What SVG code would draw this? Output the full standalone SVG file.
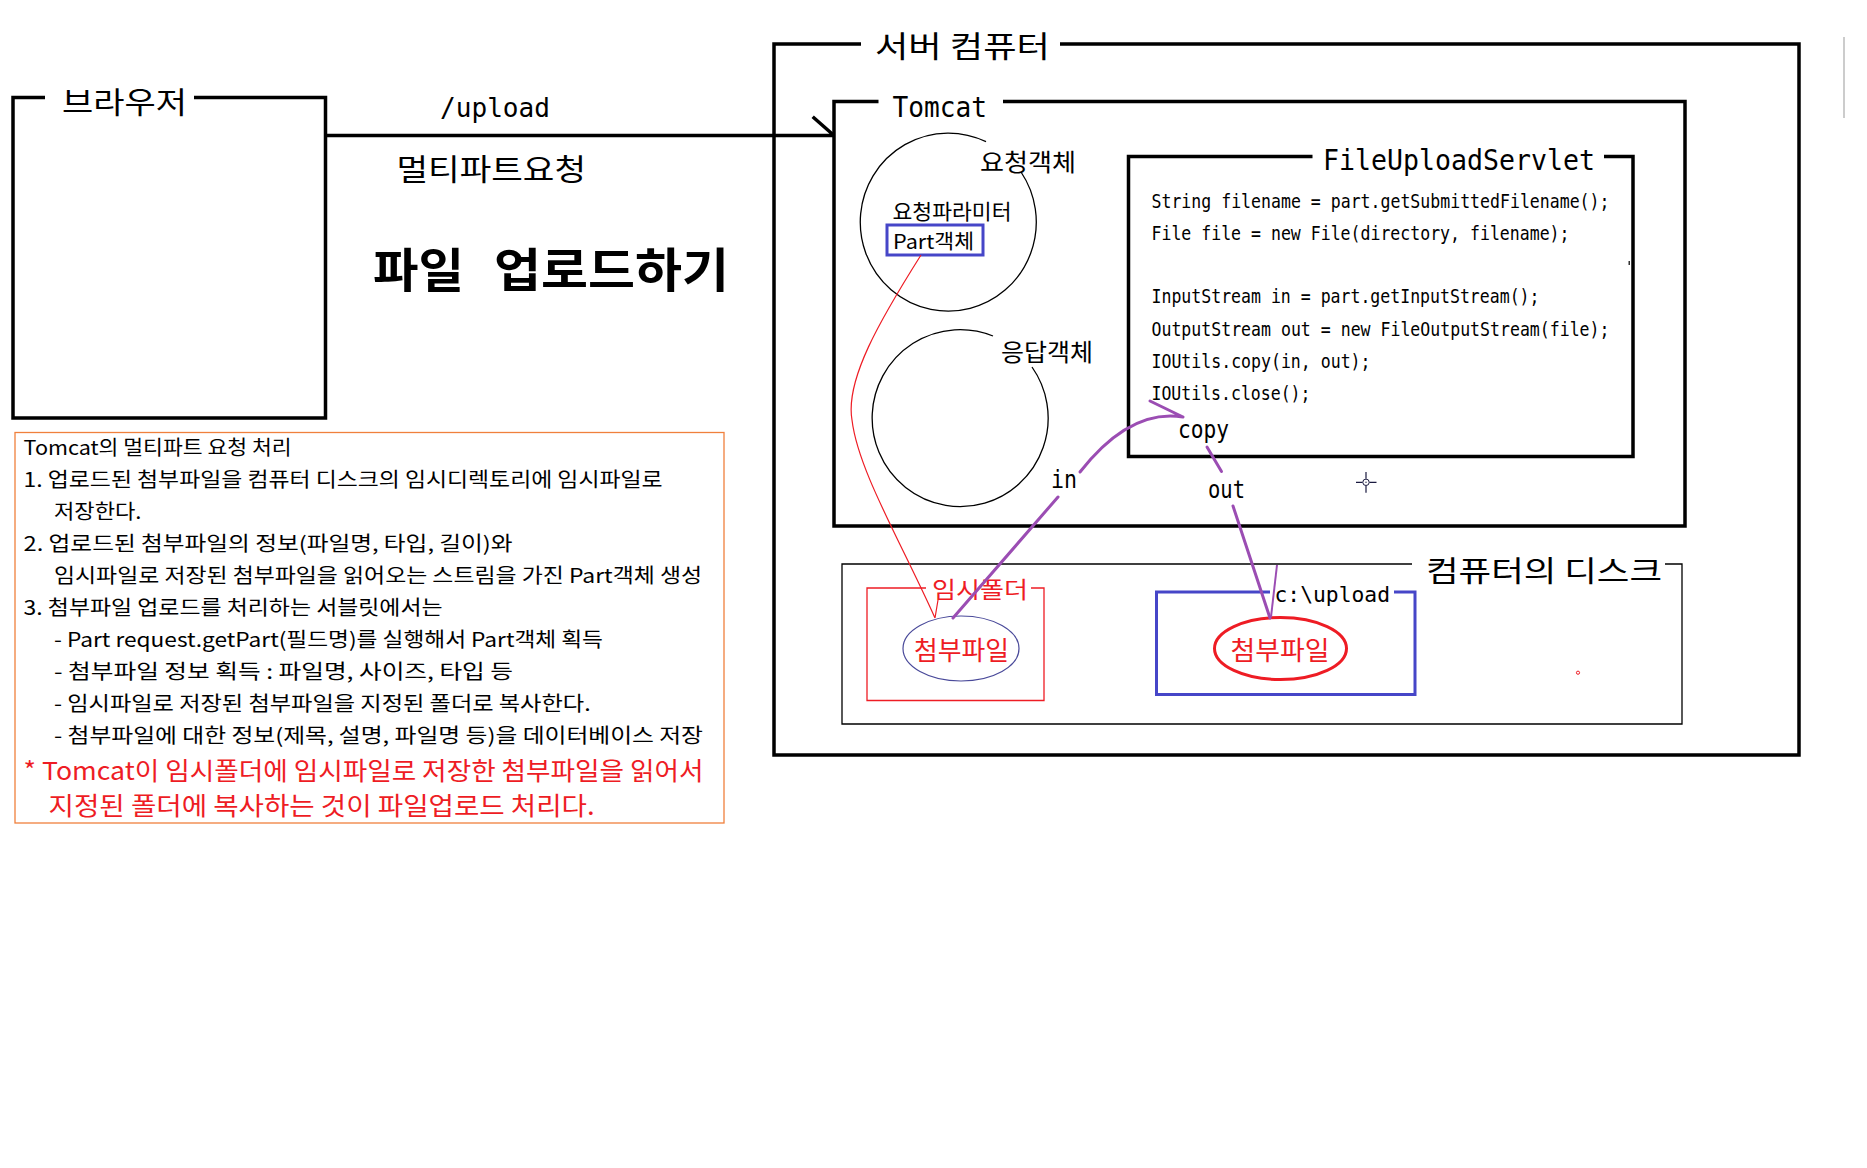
<svg xmlns="http://www.w3.org/2000/svg" width="1867" height="1168" viewBox="0 0 1867 1168">
<style>
.box{fill:none;stroke:#000;stroke-width:3.5}
.thin{fill:none;stroke:#000;stroke-width:1.3}
.kr{font-family:'Noto Sans CJK KR','Noto Sans',sans-serif;fill:#000}
.mono{font-family:'DejaVu Sans Mono','Liberation Mono',monospace;fill:#000}
.red{fill:#ee1c24}
.pur{fill:none;stroke:#9b4db3;stroke-width:3;stroke-linecap:round}
.blue{fill:none;stroke:#4646c8;stroke-width:3}
</style>
<rect width="1867" height="1168" fill="#fff"/>

<g id="browser">
<path class="box" d="M45,97.5 H13 V418 H325.5 V97.5 H194"/>
<text class="kr" x="62" y="113" font-size="30" textLength="125" lengthAdjust="spacingAndGlyphs">브라우저</text>
</g>

<g id="labels">
<text class="mono" x="440" y="117" font-size="26" textLength="110" lengthAdjust="spacingAndGlyphs">/upload</text>
<text class="kr" x="396.5" y="180" font-size="30" textLength="189.5" lengthAdjust="spacingAndGlyphs">멀티파트요청</text>
<text class="kr" x="373" y="287" font-size="47" font-weight="bold" textLength="91" lengthAdjust="spacingAndGlyphs">파일</text>
<text class="kr" x="494" y="287" font-size="47" font-weight="bold" textLength="235" lengthAdjust="spacingAndGlyphs">업로드하기</text>
</g>

<g id="server">
<path class="box" d="M861,44 H774 V755 H1799 V44 H1060"/>
<text class="kr" x="875" y="57" font-size="30" textLength="175" lengthAdjust="spacingAndGlyphs">서버 컴퓨터</text>
</g>

<g id="tomcat">
<path class="box" d="M878.5,101.5 H834 V526 H1685 V101.5 H1003"/>
<text class="mono" x="892.5" y="116.5" font-size="29" textLength="94.5" lengthAdjust="spacingAndGlyphs">Tomcat</text>
</g>

<g id="request-object">
<path class="thin" stroke-width="1.2" d="M1021,172 A88,89 0 1 1 986,141.7"/>
<text class="kr" x="980" y="170.5" font-size="24" textLength="96" lengthAdjust="spacingAndGlyphs">요청객체</text>
<text class="kr" x="892.5" y="218.5" font-size="21" textLength="119" lengthAdjust="spacingAndGlyphs">요청파라미터</text>
</g>

<g id="part-object">
<rect class="blue" x="887" y="225" width="96" height="30"/>
<text class="kr" x="893" y="248.5" font-size="20" textLength="81" lengthAdjust="spacingAndGlyphs">Part객체</text>
</g>

<g id="response-object">
<path class="thin" stroke-width="1.2" d="M1032,367 A88,88.5 0 1 1 993,336"/>
<text class="kr" x="1001" y="360.5" font-size="24" textLength="92" lengthAdjust="spacingAndGlyphs">응답객체</text>
</g>

<g id="servlet">
<path class="box" d="M1312.5,156.5 H1128.5 V456.5 H1633 V156.5 H1604"/>
<text class="mono" x="1323" y="170" font-size="29" textLength="272" lengthAdjust="spacingAndGlyphs">FileUploadServlet</text>
<g class="mono" font-size="19">
<text x="1151.5" y="208" textLength="458" lengthAdjust="spacingAndGlyphs">String filename = part.getSubmittedFilename();</text>
<text x="1151.5" y="240" textLength="418" lengthAdjust="spacingAndGlyphs">File file = new File(directory, filename);</text>
<text x="1151.5" y="303" textLength="388" lengthAdjust="spacingAndGlyphs">InputStream in = part.getInputStream();</text>
<text x="1151.5" y="335.5" textLength="458" lengthAdjust="spacingAndGlyphs">OutputStream out = new FileOutputStream(file);</text>
<text x="1151.5" y="367.5" textLength="219" lengthAdjust="spacingAndGlyphs">IOUtils.copy(in, out);</text>
<text x="1151.5" y="399.5" textLength="159" lengthAdjust="spacingAndGlyphs">IOUtils.close();</text>
</g>
<rect x="1628.5" y="261" width="1.5" height="4" fill="#333"/>
</g>

<g id="disk">
<path class="thin" stroke-width="1.5" d="M1412,564 H842 V724 H1682 V564 H1665"/>
<text class="kr" x="1426" y="581.5" font-size="29" textLength="236" lengthAdjust="spacingAndGlyphs">컴퓨터의 디스크</text>
</g>

<g id="temp-folder">
<path fill="none" stroke="#ee1c24" stroke-width="1.3" d="M926,588 H867 V700.5 H1044 V588 H1031"/>
<text class="kr red" x="932" y="597.5" font-size="23" textLength="96" lengthAdjust="spacingAndGlyphs">임시폴더</text>
</g>

<g id="temp-file">
<ellipse cx="961" cy="648.5" rx="58" ry="32.5" fill="none" stroke="#4a4a9a" stroke-width="1.2"/>
<text class="kr red" x="914" y="659.5" font-size="26" textLength="95" lengthAdjust="spacingAndGlyphs">첨부파일</text>
</g>

<g id="upload-folder">
<path class="blue" d="M1270,592 H1156.5 V694.5 H1415 V592 H1394"/>
<text class="mono" x="1274.5" y="601.5" font-size="21" textLength="115.5" lengthAdjust="spacingAndGlyphs">c:\upload</text>
</g>

<g id="saved-file">
<ellipse cx="1280.5" cy="648.5" rx="66" ry="31" fill="none" stroke="#ee1c24" stroke-width="3"/>
<text class="kr red" x="1230.5" y="659.5" font-size="26" textLength="99" lengthAdjust="spacingAndGlyphs">첨부파일</text>
</g>

<g id="connectors">
<path fill="none" stroke="#000" stroke-width="3.5" d="M325.5,135.5 H834 M812.7,116.7 L834,135.5"/>
<path fill="none" stroke="#ee1c24" stroke-width="1.2" d="M921,255 C880,320 845,380 852,420 C858,470 900,540 935,618 M938,600 L935,618"/>
<path class="pur" d="M953,618 L1058,497"/>
<path class="pur" d="M1080,472 C1105,440 1140,410 1183,417 M1150,401 L1183,417"/>
<path class="pur" d="M1207,447 L1221.5,471.5"/>
<path class="pur" d="M1233,506 L1270,618"/>
<path fill="none" stroke="#9b4db3" stroke-width="2" d="M1277,565 L1271,617"/>
<text class="mono" x="1178" y="438" font-size="24" textLength="51" lengthAdjust="spacingAndGlyphs">copy</text>
<text class="mono" x="1051" y="488" font-size="24" textLength="26" lengthAdjust="spacingAndGlyphs">in</text>
<text class="mono" x="1208" y="497.5" font-size="24" textLength="37" lengthAdjust="spacingAndGlyphs">out</text>
</g>

<g id="notes">
<rect x="15" y="432.5" width="709" height="390.5" fill="none" stroke="#f0803c" stroke-width="1.3"/>
<g class="kr" font-size="20">
<text x="23.6" y="455.4" textLength="268" lengthAdjust="spacingAndGlyphs">Tomcat의 멀티파트 요청 처리</text>
<text x="23.6" y="487" textLength="639" lengthAdjust="spacingAndGlyphs">1. 업로드된 첨부파일을 컴퓨터 디스크의 임시디렉토리에 임시파일로</text>
<text x="54" y="518.5" textLength="87.5" lengthAdjust="spacingAndGlyphs">저장한다.</text>
<text x="23.6" y="551" textLength="489" lengthAdjust="spacingAndGlyphs">2. 업로드된 첨부파일의 정보(파일명, 타입, 길이)와</text>
<text x="54" y="583" textLength="648" lengthAdjust="spacingAndGlyphs">임시파일로 저장된 첨부파일을 읽어오는 스트림을 가진 Part객체 생성</text>
<text x="23.6" y="615" textLength="419" lengthAdjust="spacingAndGlyphs">3. 첨부파일 업로드를 처리하는 서블릿에서는</text>
<text x="54" y="647" textLength="549" lengthAdjust="spacingAndGlyphs">- Part request.getPart(필드명)를 실행해서 Part객체 획득</text>
<text x="54" y="679" textLength="459" lengthAdjust="spacingAndGlyphs">- 첨부파일 정보 획득 : 파일명, 사이즈, 타입 등</text>
<text x="54" y="711" textLength="536.6" lengthAdjust="spacingAndGlyphs">- 임시파일로 저장된 첨부파일을 지정된 폴더로 복사한다.</text>
<text x="54" y="743" textLength="649" lengthAdjust="spacingAndGlyphs">- 첨부파일에 대한 정보(제목, 설명, 파일명 등)을 데이터베이스 저장</text>
</g>
<g class="kr red" font-size="24.5">
<text x="23.6" y="779.5" textLength="680" lengthAdjust="spacingAndGlyphs">* Tomcat이 임시폴더에 임시파일로 저장한 첨부파일을 읽어서</text>
<text x="48.6" y="814.5" textLength="546" lengthAdjust="spacingAndGlyphs">지정된 폴더에 복사하는 것이 파일업로드 처리다.</text>
</g>
</g>

<g id="marks">
<path fill="none" stroke="#1a1a40" stroke-width="1.2" d="M1356,482.3 H1362.5 M1369.5,482.3 H1376.5 M1366,472 V478.8 M1366,485.8 V492.7"/>
<circle cx="1366" cy="482.3" r="3.2" fill="none" stroke="#1a1a40" stroke-width="1"/>
<circle cx="1366" cy="482.3" r="0.7" fill="#1a1a40"/>
<circle cx="1578" cy="672.7" r="1.6" fill="none" stroke="#ee1c24" stroke-width="1"/>
<path fill="none" stroke="#bbb" stroke-width="1.5" d="M1844,37 V118"/>
</g>
</svg>
